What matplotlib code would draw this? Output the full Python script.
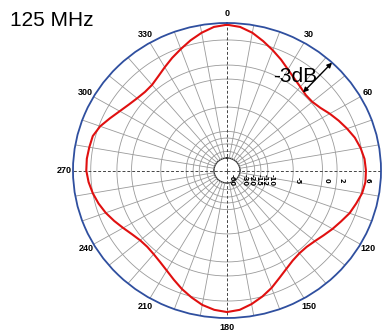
import numpy as np
import matplotlib.pyplot as plt

# Antenna pattern at 125 MHz, gain in dB every 5 degrees (clockwise from 0)
angles_deg = np.arange(0, 360, 5)
gain_db = [7.8, 7.6, 7.1, 6.4, 5.6, 4.7, 3.8, 3.1, 2.6, 2.2, 2.2, 2.6,
           3.3, 4.0, 4.7, 5.4, 5.9, 6.2, 6.3, 6.3, 6.1, 5.6, 5.1, 4.4,
           3.8, 3.2, 2.7, 2.4, 2.4, 2.7, 3.3, 4.1, 5.1, 6.0, 6.6, 7.1,
           7.3, 7.1, 6.7, 6.1, 5.3, 4.4, 3.6, 3.0, 2.6, 2.4, 2.5, 2.9,
           3.5, 4.2, 4.9, 5.5, 6.0, 6.3, 6.5, 6.5, 6.4, 6.3, 5.8, 4.9,
           4.1, 3.5, 3.1, 2.9, 3.0, 3.5, 4.2, 5.0, 5.8, 6.5, 7.1, 7.6]

# dB rings of the chart and where they sit on the (non-linear) radial scale
ring_db = [-60, -30, -20, -15, -12, -10, -5, 0, 2, 6, 8]
ring_r = [0.0, 0.085, 0.13, 0.18, 0.22, 0.265, 0.43, 0.62, 0.715, 0.885, 1.0]
ring_labels = ['-60', '-30', '-20', '-15', '-12', '-10', '-5', '0', '2', '6', '8']

theta_labels = [str(a) for a in range(0, 360, 30)]


def db_to_r(db):
    return np.interp(db, ring_db, ring_r)


fig = plt.figure(figsize=(3.85, 3.33), dpi=100)
ax = fig.add_axes([73 / 385, 15 / 333, 308 / 385, 295 / 333], projection='polar')
ax.set_aspect('auto')
ax.set_theta_zero_location('N')
ax.set_theta_direction(-1)
ax.set_ylim(0, 1)
ax.grid(False)
ax.set_yticks([])
ax.set_xticks(np.deg2rad(np.arange(0, 360, 30)))
ax.set_xticklabels(theta_labels, fontsize=6.5, fontweight='bold',
                   family='Liberation Sans')
ax.tick_params(axis='x', pad=-0.5, length=0)
ax.spines['polar'].set_color('#2f4f9f')
ax.spines['polar'].set_linewidth(1.3)

th_full = np.linspace(0, 2 * np.pi, 361)

# rings
for db in ring_db[1:-1]:
    r = db_to_r(db)
    if db == -30:
        ax.plot(th_full, np.full_like(th_full, r), color='#333333', lw=1.0)
    else:
        ax.plot(th_full, np.full_like(th_full, r), color='#9a9a9a', lw=0.6)

# spokes every 10 degrees
r_in = db_to_r(-30)
for a in range(0, 360, 10):
    t = np.deg2rad(a)
    if a % 90 == 0:
        ax.plot([t, t], [0, 1], color='#444444', lw=0.7, ls=(0, (3, 2)))
    else:
        ax.plot([t, t], [r_in, 1], color='#9a9a9a', lw=0.6)

# ring labels along the 90 degree axis
for db, lab in zip(ring_db, ring_labels):
    ax.annotate(lab, xy=(np.pi / 2, db_to_r(db)), xytext=(3, -7),
                textcoords='offset points', rotation=-90, fontsize=4.8,
                fontweight='bold', ha='center', va='center',
                annotation_clip=False)

# pattern
th = np.deg2rad(np.append(angles_deg, 360))
g = np.append(gain_db, gain_db[0])
ax.plot(th, db_to_r(g), color='#e01010', lw=1.5)

# -3 dB marker at 45 degrees
t45 = np.deg2rad(43)
ax.annotate('', xy=(t45, 1.0), xytext=(t45, db_to_r(2.2)),
            arrowprops=dict(arrowstyle='<|-|>', color='black', lw=1.0,
                            mutation_scale=7, shrinkA=0, shrinkB=0))
fig.text(295 / 385, 1 - 77 / 333, '-3dB', fontsize=15, ha='center', va='center',
         family='Liberation Sans')

fig.text(10 / 385, 1 - 20 / 333, '125 MHz', fontsize=15, ha='left', va='center',
         family='Liberation Sans')

plt.savefig('out.png', dpi=100)
